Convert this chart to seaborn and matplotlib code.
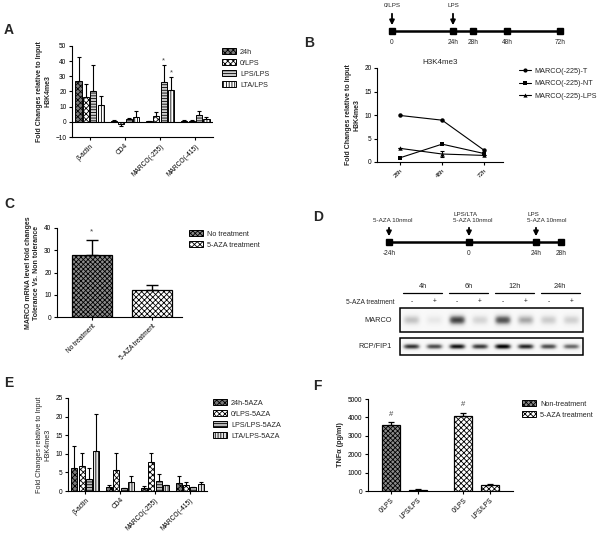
import numpy as np
import pandas as pd
import matplotlib
matplotlib.use("Agg")
import matplotlib.pyplot as plt
import seaborn as sns
from matplotlib.patches import Patch, Rectangle
from matplotlib.lines import Line2D

# ---------------- data ----------------
genes = ["β-actin", "CD4", "MARCO(-255)", "MARCO(-415)"]

# Panel A
a_conds = ["24h", "0/LPS", "LPS/LPS", "LTA/LPS"]
a_24h = [27.0, 0.3, 0.5, 0.6]
a_0lps = [16.5, -1.5, 4.0, 0.6]
a_lpslps = [20.0, 2.0, 26.0, 4.5]
a_ltalps = [11.0, 3.5, 21.0, 2.0]
a_24h_err = [16.0, 0.8, 0.3, 0.3]
a_0lps_err = [8.5, 1.5, 2.2, 0.3]
a_lpslps_err = [17.5, 0.5, 11.5, 2.5]
a_ltalps_err = [6.0, 3.4, 8.5, 1.5]

# Panel B
b_times = ["28h", "48h", "72h"]
b_series = ["MARCO(-225)-T", "MARCO(-225)-NT", "MARCO(-225)-LPS"]
b_T = [9.9, 8.9, 2.5]
b_NT = [0.9, 3.8, 1.8]
b_LPS = [2.9, 1.7, 1.4]
b_LPS_err = [0.0, 0.7, 0.0]

# Panel C
c_groups = ["No treatment", "5-AZA treatment"]
c_mean = [28.0, 12.0]
c_err = [6.5, 2.5]

# Panel D (western blot band intensities)
blot_times = ["4h", "6h", "12h", "24h"]
blot_aza = ["-", "+", "-", "+", "-", "+", "-", "+"]
marco_bands = [0.30, 0.12, 0.75, 0.22, 0.70, 0.40, 0.26, 0.24]
rcp_bands = [0.80, 0.72, 0.90, 0.78, 0.97, 0.84, 0.72, 0.62]

# Panel E
e_conds = ["24h-5AZA", "0/LPS-5AZA", "LPS/LPS-5AZA", "LTA/LPS-5AZA"]
e_24h = [6.1, 1.0, 0.7, 2.1]
e_0lps = [6.6, 5.7, 7.7, 1.6]
e_lpslps = [3.3, 0.7, 2.6, 1.0]
e_ltalps = [10.8, 2.5, 1.5, 2.0]
e_24h_err = [5.9, 0.7, 0.6, 1.9]
e_0lps_err = [3.7, 4.6, 2.6, 0.8]
e_lpslps_err = [2.9, 0.1, 2.1, 0.1]
e_ltalps_err = [10.0, 1.6, 0.1, 0.5]

# Panel F
f_treat = ["Non-treatment", "5-AZA treatment"]
f_cond = ["0/LPS", "LPS/LPS"]
f_non = [3600, 70]
f_non_err = [130, 20]
f_aza = [4050, 340]
f_aza_err = [210, 40]

# ---------------- style ----------------
sns.set_style("ticks")
plt.rcParams["font.family"] = ["Liberation Sans", "DejaVu Sans"]
plt.rcParams.update({
    "axes.linewidth": 0.8, "axes.edgecolor": "black",
    "xtick.major.width": 0.8, "ytick.major.width": 0.8,
    "xtick.major.size": 2.5, "ytick.major.size": 2.5,
    "xtick.labelsize": 4.7, "ytick.labelsize": 4.7,
    "xtick.major.pad": 1.5, "ytick.major.pad": 1.5,
    "xtick.color": "black", "ytick.color": "black",
    "hatch.linewidth": 0.6,
})

W, H = 600, 537
fig = plt.figure(figsize=(6.0, 5.37), dpi=100)


def px_axes(l, t, r, b):
    return fig.add_axes([l / W, 1 - b / H, (r - l) / W, (b - t) / H])


ov = fig.add_axes([0, 0, 1, 1])
ov.axis("off")

# bar styles (face colour, hatch)
sty4 = [("#7a7a7a", "xxxxxx"), ("white", "xxxxxx"), ("#cfcfcf", "------"), ("white", "||||||")]
sty4e = [("#7a7a7a", "xxxxxx"), ("white", "xxxxxx"), ("#bdbdbd", "------"), ("#e6e6e6", "||||||")]


def style_bars(ax, styles, errs):
    conts = list(ax.containers)
    for ci, cont in enumerate(conts):
        fc, hatch = styles[ci]
        for j, p in enumerate(cont.patches):
            p.set_facecolor(fc)
            p.set_hatch(hatch)
            p.set_edgecolor("black")
            p.set_linewidth(0.7)
            x = p.get_x() + p.get_width() / 2
            h = p.get_height()
            e = errs[ci][j]
            yerr = [[0], [e]] if h >= 0 else [[e], [0]]
            ax.errorbar([x], [h], yerr=yerr, fmt="none", ecolor="black",
                        elinewidth=0.8, capsize=1.6, capthick=0.8)
    return conts


def legend(ax, handles, labels, x, y, spacing=0.45, hl=2.0):
    ax.legend(handles, labels, loc="upper left", bbox_to_anchor=(x / W, 1 - y / H),
              bbox_transform=fig.transFigure, frameon=False, fontsize=5.2,
              handlelength=hl, handleheight=1.0, handletextpad=0.5,
              labelspacing=spacing, borderpad=0, borderaxespad=0)


def prism_axes(ax):
    sns.despine(ax=ax)
    ax.tick_params(axis="both", direction="out")


# ---------------- Panel A ----------------
axA = px_axes(72, 46, 213, 137)
dfA = pd.DataFrame({"gene": genes * 4, "cond": np.repeat(a_conds, 4),
                    "val": a_24h + a_0lps + a_lpslps + a_ltalps})
sns.barplot(data=dfA, x="gene", y="val", hue="cond", order=genes, hue_order=a_conds,
            width=0.84, gap=0.18, errorbar=None, legend=False, ax=axA)
contA = style_bars(axA, sty4, [a_24h_err, a_0lps_err, a_lpslps_err, a_ltalps_err])
axA.axhline(0, color="black", lw=0.8)
axA.set_ylim(-10, 50)
axA.set_xlim(-0.5, 3.5)
axA.set_yticks(range(-10, 51, 10))
axA.set_xlabel("")
axA.set_ylabel("Fold Changes relative to Input\nH3K4me3", fontsize=5, fontweight="bold", labelpad=3)
axA.set_xticks(range(4))
axA.set_xticklabels(genes, rotation=45, ha="right", rotation_mode="anchor", fontsize=4.8)
for idx, errs in [(2, a_lpslps_err), (3, a_ltalps_err)]:
    p = contA[idx].patches[2]
    axA.text(p.get_x() + p.get_width() / 2, p.get_height() + errs[2] + 0.5,
             "*", ha="center", va="bottom", fontsize=5.5, color="#444444")
prism_axes(axA)
legend(axA, [Patch(facecolor=f, hatch=h, edgecolor="black", lw=0.7) for f, h in sty4],
       a_conds, 222, 48)

# ---------------- Panel B ----------------
axB = px_axes(377, 68, 503, 162)
dfB = pd.DataFrame({"pos": list(range(3)) * 3, "val": b_T + b_NT + b_LPS,
                    "series": np.repeat(b_series, 3)})
sns.lineplot(data=dfB, x="pos", y="val", hue="series", style="series", hue_order=b_series,
             style_order=b_series, markers=["o", "s", "^"], dashes=False,
             palette=["black"] * 3, markersize=3.2, linewidth=0.8, markeredgewidth=0,
             legend=False, ax=axB)
axB.errorbar(range(3), b_LPS, yerr=b_LPS_err, fmt="none", ecolor="black",
             elinewidth=0.8, capsize=1.6, capthick=0.8)
axB.set_xlim(-0.55, 2.45)
axB.set_ylim(0, 20)
axB.set_yticks(range(0, 21, 5))
axB.set_xticks(range(3))
axB.set_xticklabels(b_times, rotation=45, ha="right", rotation_mode="anchor", fontsize=4.5)
axB.set_xlabel("")
axB.set_ylabel("Fold Changes relative to Input\nH3K4me3", fontsize=5, fontweight="bold", labelpad=3)
axB.set_title("H3K4me3", fontsize=5.8, pad=3)
prism_axes(axB)
legend(axB, [Line2D([], [], color="black", lw=0.8, marker=m, ms=3, mew=0) for m in ["o", "s", "^"]],
       b_series, 519, 67, spacing=0.7, hl=1.6)

# timeline B
tl_y = 31
tlB_x = [392, 453, 473, 507, 560]
tlB_lab = ["0", "24h", "28h", "48h", "72h"]
ov.plot([tlB_x[0], tlB_x[-1]], [tl_y, tl_y], color="black", lw=1.8)
ov.plot(tlB_x, [tl_y] * len(tlB_x), "s", color="black", ms=4.2)
for x, lab in zip(tlB_x, tlB_lab):
    ov.text(x, 39, lab, ha="center", va="top", fontsize=4.7)
for x, lab in [(392, "0/LPS"), (453, "LPS")]:
    ov.annotate("", xy=(x, tl_y - 3), xytext=(x, 11),
                arrowprops=dict(arrowstyle="-|>", lw=1.3, color="black", mutation_scale=7))
    ov.text(x, 8, lab, ha="center", va="bottom", fontsize=4.5)

# ---------------- Panel C ----------------
axC = px_axes(57, 228, 182, 317)
sns.barplot(x=c_groups, y=c_mean, hue=c_groups, width=0.67, errorbar=None,
            legend=False, ax=axC)
c_sty = [("#8c8c8c", "xxxxxxx"), ("white", "xxxxxx")]
for ci, cont in enumerate(list(axC.containers)):
    for p in cont.patches:
        fc, hatch = c_sty[ci]
        p.set_facecolor(fc); p.set_hatch(hatch); p.set_edgecolor("black"); p.set_linewidth(0.9)
        x = p.get_x() + p.get_width() / 2
        axC.errorbar([x], [p.get_height()], yerr=[[0], [c_err[ci]]], fmt="none", ecolor="black",
                     elinewidth=1.0, capsize=4, capthick=1.0)
axC.text(0, c_mean[0] + c_err[0] + 2, "*", ha="center", va="bottom", fontsize=6, color="#444444")
axC.set_xlim(-0.58, 1.5)
axC.set_ylim(0, 40)
axC.set_yticks(range(0, 41, 10))
axC.set_xticks(range(2))
axC.set_xticklabels(c_groups, rotation=45, ha="right", rotation_mode="anchor", fontsize=4.7)
axC.set_ylabel("MARCO mRNA level fold changes\nTolerance Vs. Non tolerance", fontsize=5,
               fontweight="bold", labelpad=3)
prism_axes(axC)
legend(axC, [Patch(facecolor=f, hatch=h, edgecolor="black", lw=0.7) for f, h in c_sty],
       c_groups, 189, 230)

# ---------------- Panel D ----------------
tlD_y = 242
tlD_x = [389, 469, 536, 561]
tlD_lab = ["-24h", "0", "24h", "28h"]
ov.plot([tlD_x[0], tlD_x[-1]], [tlD_y, tlD_y], color="black", lw=1.8)
ov.plot(tlD_x, [tlD_y] * 4, "s", color="black", ms=4.2)
for x, lab in zip(tlD_x, tlD_lab):
    ov.text(x, 250, lab, ha="center", va="top", fontsize=4.7)
for x, tx, lab in [(389, 373, "5-AZA 10nmol"), (469, 453, "LPS/LTA\n5-AZA 10nmol"),
                   (536, 527, "LPS\n5-AZA 10nmol")]:
    ov.annotate("", xy=(x, tlD_y - 3), xytext=(x, 225),
                arrowprops=dict(arrowstyle="-|>", lw=1.3, color="black", mutation_scale=7))
    ov.text(tx, 223, lab, ha="left", va="bottom", fontsize=4.5, linespacing=1.2)

bl_l, bl_r = 400, 583
lane_w = (bl_r - bl_l) / 8
for k, t in enumerate(blot_times):
    cx = bl_l + lane_w * (2 * k + 1)
    ov.text(cx, 290, t, ha="center", va="bottom", fontsize=5.3)
    ov.plot([cx - lane_w * 0.85, cx + lane_w * 0.85], [293, 293], color="black", lw=0.9)
for i, s in enumerate(blot_aza):
    ov.text(bl_l + lane_w * (i + 0.5), 302, s, ha="center", va="center", fontsize=4.7)
ov.text(394, 302, "5-AZA treatment", ha="right", va="center", fontsize=4.8)
ov.text(392, 320, "MARCO", ha="right", va="center", fontsize=5.3)
ov.text(392, 347, "RCP/FIP1", ha="right", va="center", fontsize=5.3)


def band_image(intens, thick, ncols=400, nrows=60):
    xs = np.linspace(0, 8, ncols)
    ys = np.linspace(-1, 1, nrows)
    X, Y = np.meshgrid(xs, ys)
    img = np.full(X.shape, 0.05)
    for i, v in enumerate(intens):
        img += v * np.exp(-((X - (i + 0.5)) / 0.36) ** 4) * np.exp(-(Y / thick) ** 2)
    return np.clip(img, 0, 1)


for intens, top, bot, thick in [(marco_bands, 308, 332, 0.40), (rcp_bands, 338, 355, 0.32)]:
    ov.imshow(band_image(intens, thick), cmap="Greys", vmin=0, vmax=1,
              extent=(bl_l, bl_r, bot, top), aspect="auto", interpolation="bilinear")
    ov.add_patch(Rectangle((bl_l, top), bl_r - bl_l, bot - top, fill=False, lw=1.1, ec="black"))

# ---------------- Panel E ----------------
axE = px_axes(68, 398, 207, 491)
dfE = pd.DataFrame({"gene": genes * 4, "cond": np.repeat(e_conds, 4),
                    "val": e_24h + e_0lps + e_lpslps + e_ltalps})
sns.barplot(data=dfE, x="gene", y="val", hue="cond", order=genes, hue_order=e_conds,
            width=0.84, gap=0.18, errorbar=None, legend=False, ax=axE)
style_bars(axE, sty4e, [e_24h_err, e_0lps_err, e_lpslps_err, e_ltalps_err])
axE.set_ylim(0, 25)
axE.set_xlim(-0.5, 3.5)
axE.set_yticks(range(0, 26, 5))
axE.set_xlabel("")
axE.set_ylabel("Fold Changes relative to Input\nH3K4me3", fontsize=5.2, labelpad=3)
axE.set_xticks(range(4))
axE.set_xticklabels(genes, rotation=45, ha="right", rotation_mode="anchor", fontsize=4.8)
prism_axes(axE)
legend(axE, [Patch(facecolor=f, hatch=h, edgecolor="black", lw=0.7) for f, h in sty4e],
       e_conds, 213, 399)

# ---------------- Panel F ----------------
axF = px_axes(368, 399, 513, 491)
dfF = pd.DataFrame({"treat": np.repeat(f_treat, 2), "cond": f_cond * 2,
                    "val": f_non + f_aza})
sns.barplot(data=dfF, x="treat", y="val", hue="cond", order=f_treat, hue_order=f_cond,
            width=0.74, gap=0.33, errorbar=None, legend=False, ax=axF)
f_sty = [("#8c8c8c", "xxxxxxx"), ("white", "xxxxxx")]
f_errs = [f_non_err, f_aza_err]
centers, labels = [], []
for ci, cont in enumerate(list(axF.containers)):
    for j, p in enumerate(cont.patches):
        fc, hatch = f_sty[j]
        p.set_facecolor(fc); p.set_hatch(hatch); p.set_edgecolor("black"); p.set_linewidth(0.9)
        x = p.get_x() + p.get_width() / 2
        axF.errorbar([x], [p.get_height()], yerr=[[0], [f_errs[j][ci]]], fmt="none",
                     ecolor="black", elinewidth=0.9, capsize=2.5, capthick=0.9)
        centers.append(x); labels.append(f_cond[ci])
        if ci == 0:
            axF.text(x, p.get_height() + f_errs[j][ci] + 250, "#", ha="center", va="bottom",
                     fontsize=5.5, color="#444444")
order = np.argsort(centers)
axF.set_xticks([centers[i] for i in order])
axF.set_xticklabels([labels[i] for i in order], rotation=45, ha="right",
                    rotation_mode="anchor", fontsize=4.7)
axF.set_xlim(-0.5, 1.5)
axF.set_ylim(0, 5000)
axF.set_yticks(range(0, 5001, 1000))
axF.set_xlabel("")
axF.set_ylabel("TNFα (pg/ml)", fontsize=5.2, fontweight="bold", labelpad=3)
prism_axes(axF)
legend(axF, [Patch(facecolor=f, hatch=h, edgecolor="black", lw=0.7) for f, h in f_sty],
       f_treat, 522, 400)

# ---------------- panel letters ----------------
for lab, x, y in [("A", 4, 34), ("B", 304, 47), ("C", 4, 208), ("D", 313, 221),
                  ("E", 4, 387), ("F", 313, 390)]:
    ov.text(x, y, lab, fontsize=10, fontweight="bold", va="baseline", ha="left")

ov.set_xlim(0, W)
ov.set_ylim(H, 0)
fig.savefig("out.png", dpi=100)
